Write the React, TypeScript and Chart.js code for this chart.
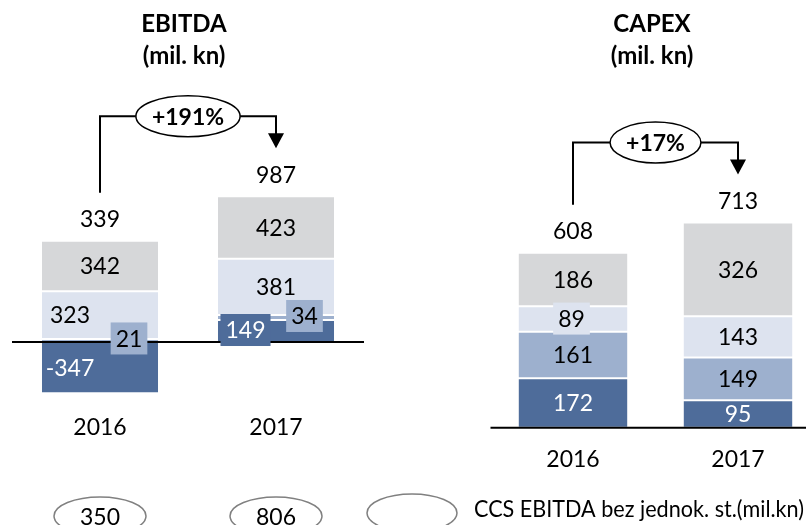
import React, { useEffect, useRef } from "react";
import { Chart, registerables } from "chart.js";

Chart.register(...registerables);

// ---------- data ----------
const years = ["2016", "2017"];

// EBITDA (mil. kn), segments stacked bottom -> top
const ebitdaDark = [-347, 149];
const ebitdaMedium = [21, 34];
const ebitdaLight = [323, 381];
const ebitdaGray = [342, 423];
const ebitdaTotals = [339, 987];
const ebitdaChange = "+191%";

// CAPEX (mil. kn), segments stacked bottom -> top
const capexDark = [172, 95];
const capexMedium = [161, 149];
const capexLight = [89, 143];
const capexGray = [186, 326];
const capexTotals = [608, 713];
const capexChange = "+17%";

// CCS EBITDA excluding special items
const ccsEbitda = [350, 806];
const ccsLabel = "CCS EBITDA bez jednok. st.(mil.kn)";

// ---------- styles ----------
const COLORS = { dark: "#4E6C9A", medium: "#9DB0CE", light: "#DDE3EF", gray: "#D6D7D9" };
const FONT = 'Lato, "Open Sans", "DejaVu Sans", sans-serif';
const LABEL_FONT = `23px ${FONT}`;

type Place = { dx?: number; dy?: number; box?: boolean };

interface PanelCfg {
  title: string[];
  titleDx: number;
  totals: number[];
  change: string;
  place: Record<string, Place>;
  yearDy: number;
  legend?: boolean;
}

function makeDatasets(dark: number[], medium: number[], light: number[], gray: number[]) {
  const base = {
    borderColor: "#ffffff",
    borderWidth: { top: 1, bottom: 1, left: 0, right: 0 },
    borderSkipped: false as const,
    categoryPercentage: 1,
    barPercentage: 0.66,
  };
  return [
    { ...base, label: "Segment 1", data: dark, backgroundColor: COLORS.dark },
    { ...base, label: "Segment 2", data: medium, backgroundColor: COLORS.medium },
    { ...base, label: "Segment 3", data: light, backgroundColor: COLORS.light },
    { ...base, label: "Segment 4", data: gray, backgroundColor: COLORS.gray },
  ];
}

function makePlugin(cfg: PanelCfg) {
  return {
    id: "panelDecor",
    afterDatasetsDraw(chart: any) {
      const ctx: CanvasRenderingContext2D = chart.ctx;
      const xs = chart.scales.x;
      const ys = chart.scales.y;
      const area = chart.chartArea;
      const y0 = ys.getPixelForValue(0);
      ctx.save();

      // zero baseline
      ctx.strokeStyle = "#000";
      ctx.lineWidth = 2;
      ctx.beginPath();
      ctx.moveTo(area.left, y0);
      ctx.lineTo(area.right, y0);
      ctx.stroke();

      // segment labels
      ctx.font = LABEL_FONT;
      ctx.textAlign = "center";
      ctx.textBaseline = "middle";
      chart.data.datasets.forEach((ds: any, di: number) => {
        const meta = chart.getDatasetMeta(di);
        meta.data.forEach((el: any, i: number) => {
          const p = el.getProps(["x", "y", "base"], true);
          const v = ds.data[i];
          const pl = cfg.place[`${di}-${i}`] || {};
          const tx = p.x + (pl.dx || 0);
          const ty = (p.y + p.base) / 2 + (pl.dy || 0);
          const txt = String(v);
          if (pl.box) {
            const w = ctx.measureText(txt).width + 10;
            ctx.fillStyle = ds.backgroundColor;
            ctx.fillRect(tx - w / 2, ty - 16, w, 32);
          }
          ctx.fillStyle = di === 0 ? "#ffffff" : "#000000";
          ctx.fillText(txt, tx, ty + 1);
        });
      });

      // totals + year labels
      const totalsY: number[] = [];
      const xsPix: number[] = [];
      years.forEach((yr, i) => {
        let pos = 0;
        chart.data.datasets.forEach((ds: any) => {
          const v = ds.data[i];
          if (v > 0) pos += v;
        });
        const topY = ys.getPixelForValue(pos);
        const cx = xs.getPixelForValue(i);
        xsPix.push(cx);
        const ty = topY - 22;
        totalsY.push(ty);
        ctx.fillStyle = "#000";
        ctx.font = LABEL_FONT;
        ctx.fillText(String(cfg.totals[i]), cx, ty + 1);
        ctx.fillText(yr, cx, y0 + cfg.yearDy);
      });

      // change arrow
      const [x0, x1] = xsPix;
      const sY = totalsY[0] - 26;
      const tipY = totalsY[1] - 26;
      const hY = Math.min(totalsY[0], totalsY[1]) - 58;
      ctx.font = `bold 23px ${FONT}`;
      const tw = ctx.measureText(cfg.change).width;
      const cx = (x0 + x1) / 2;
      const rx = tw / 2 + 16;
      const ry = 20.5;
      ctx.strokeStyle = "#000";
      ctx.lineWidth = 2;
      ctx.beginPath();
      ctx.moveTo(x0, sY);
      ctx.lineTo(x0, hY);
      ctx.lineTo(cx - rx, hY);
      ctx.stroke();
      ctx.beginPath();
      ctx.moveTo(cx + rx, hY);
      ctx.lineTo(x1, hY);
      ctx.lineTo(x1, tipY - 14);
      ctx.stroke();
      ctx.fillStyle = "#000";
      ctx.beginPath();
      ctx.moveTo(x1 - 8, tipY - 15);
      ctx.lineTo(x1 + 8, tipY - 15);
      ctx.lineTo(x1, tipY);
      ctx.closePath();
      ctx.fill();
      ctx.lineWidth = 1.5;
      ctx.beginPath();
      ctx.ellipse(cx, hY, rx, ry, 0, 0, Math.PI * 2);
      ctx.fillStyle = "#fff";
      ctx.fill();
      ctx.stroke();
      ctx.fillStyle = "#000";
      ctx.fillText(cfg.change, cx, hY + 1);

      // title
      ctx.font = `bold 24px ${FONT}`;
      ctx.fillText(cfg.title[0], cx + cfg.titleDx, 24);
      ctx.fillText(cfg.title[1], cx + cfg.titleDx, 56);

      // legend (CCS EBITDA)
      if (cfg.legend) {
        ctx.strokeStyle = "#808080";
        ctx.lineWidth = 1.5;
        ctx.font = LABEL_FONT;
        ccsEbitda.forEach((v, i) => {
          const ex = xsPix[i];
          ctx.beginPath();
          ctx.ellipse(ex, 516, 46, 19, 0, 0, Math.PI * 2);
          ctx.stroke();
          ctx.fillStyle = "#000";
          ctx.fillText(String(v), ex, 518);
        });
        ctx.beginPath();
        ctx.ellipse(412, 513, 45, 19, 0, 0, Math.PI * 2);
        ctx.stroke();
        ctx.textAlign = "left";
        ctx.fillStyle = "#000";
        ctx.fillText(ccsLabel, 474, 510, 330);
      }
      ctx.restore();
    },
  };
}

function makeChart(
  canvas: HTMLCanvasElement,
  datasets: any[],
  cfg: PanelCfg,
  yMin: number,
  yMax: number,
  padding: { left: number; right: number; top: number; bottom: number }
) {
  return new Chart(canvas, {
    type: "bar",
    data: { labels: years, datasets },
    options: {
      responsive: false,
      maintainAspectRatio: false,
      animation: false,
      layout: { padding },
      plugins: {
        legend: { display: false },
        tooltip: { enabled: false },
        title: { display: false },
      },
      scales: {
        x: { display: false, stacked: true },
        y: { display: false, stacked: true, min: yMin, max: yMax },
      },
    },
    plugins: [makePlugin(cfg)],
  } as any);
}

export default function App() {
  const ebitdaRef = useRef<HTMLCanvasElement>(null);
  const capexRef = useRef<HTMLCanvasElement>(null);

  useEffect(() => {
    const c1 = makeChart(
      ebitdaRef.current!,
      makeDatasets(ebitdaDark, ebitdaMedium, ebitdaLight, ebitdaGray),
      {
        title: ["EBITDA", "(mil. kn)"],
        titleDx: -4,
        totals: ebitdaTotals,
        change: ebitdaChange,
        yearDy: 86,
        legend: true,
        place: {
          "0-0": { dx: -30 },
          "0-1": { dx: -30.5, dy: -1, box: true },
          "1-0": { dx: 29, dy: -2, box: true },
          "1-1": { dx: 28.5, dy: -1.5, box: true },
          "2-0": { dx: -30 },
        },
      },
      -700,
      1300,
      { left: 12, right: 442, top: 150, bottom: 79.6 }
    );
    const c2 = makeChart(
      capexRef.current!,
      makeDatasets(capexDark, capexMedium, capexLight, capexGray),
      {
        title: ["CAPEX", "(mil. kn)"],
        titleDx: -3.5,
        totals: capexTotals,
        change: capexChange,
        yearDy: 32,
        place: {
          "2-0": { dx: -1.5, dy: -0.5, box: true },
        },
      },
      -200,
      1000,
      { left: 90.5, right: 9.5, top: 140, bottom: 39.8 }
    );
    return () => {
      c1.destroy();
      c2.destroy();
    };
  }, []);

  return (
    <div
      style={{
        position: "absolute",
        left: 0,
        top: 0,
        width: 806,
        height: 525,
        overflow: "hidden",
        background: "#fff",
      }}
    >
      <canvas
        ref={ebitdaRef}
        width={806}
        height={525}
        style={{ position: "absolute", left: 0, top: 0, width: 806, height: 525 }}
      />
      <canvas
        ref={capexRef}
        width={430}
        height={525}
        style={{ position: "absolute", left: 400, top: 0, width: 430, height: 525 }}
      />
    </div>
  );
}
